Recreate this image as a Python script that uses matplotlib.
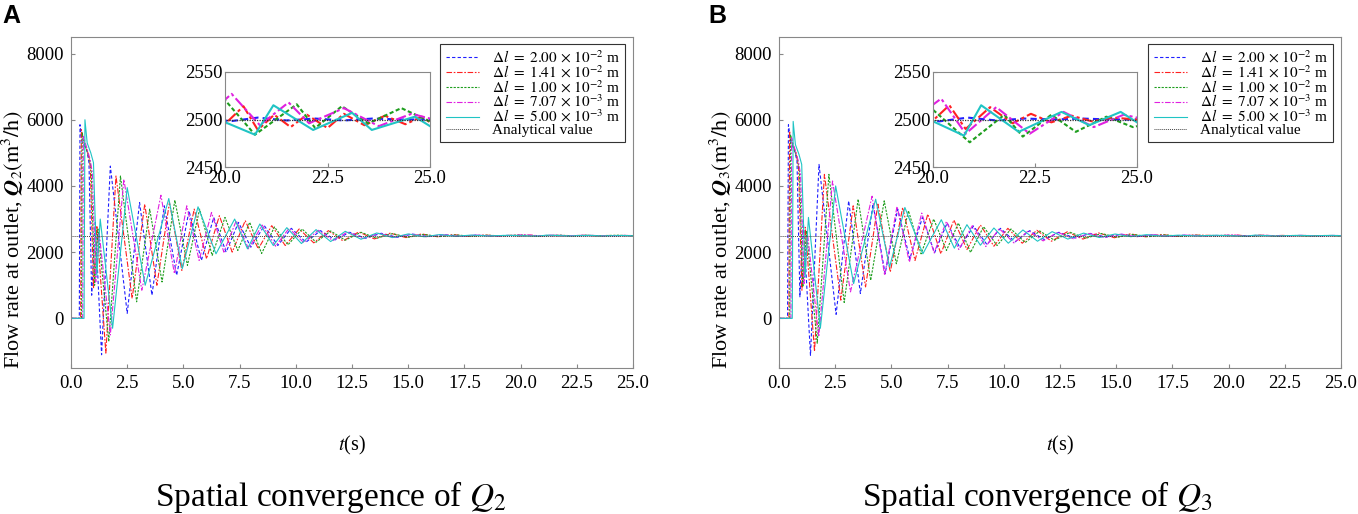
import matplotlib
matplotlib.use("Agg")
import matplotlib.pyplot as plt

plt.rcParams["font.family"] = ["Liberation Serif", "DejaVu Serif"]
plt.rcParams["mathtext.fontset"] = "stix"

# ---- panel A : Q2 (turning points) ----
T_A_BLUE = [0, 0.37, 0.40, 0.50, 0.70, 0.80, 0.92, 1.08, 1.36, 1.75,
            2.50, 3.05, 3.60, 4.15, 4.70, 5.25, 5.80, 6.35, 6.90, 7.45,
            8.00, 8.60, 9.20, 9.80, 10.45, 11.10, 11.75, 12.40, 13.10, 13.80,
            14.50, 15.20, 15.90, 16.60, 17.30, 18.00, 18.70, 19.40, 20.10, 20.80,
            21.50, 22.20, 22.90, 23.60, 24.30, 25.00]
Q_A_BLUE = [0, 0, 5850, 5300, 5100, 4700, 700, 2900, -1100, 4600,
            150, 3500, 700, 3400, 1300, 3250, 1750, 3050, 2000, 2900,
            2150, 2800, 2200, 2720, 2300, 2650, 2370, 2600, 2420, 2570,
            2450, 2545, 2470, 2525, 2485, 2512, 2493, 2506, 2498, 2502,
            2499, 2501, 2499, 2501, 2500, 2500]

T_A_RED = [0, 0.43, 0.46, 0.58, 0.75, 0.86, 1.00, 1.15, 1.55, 2.00,
           2.72, 3.28, 3.82, 4.38, 4.93, 5.48, 6.03, 6.60, 7.17, 7.75,
           8.33, 8.93, 9.53, 10.15, 10.80, 11.45, 12.10, 12.80, 13.50, 14.20,
           14.90, 15.60, 16.30, 17.00, 17.70, 18.40, 19.10, 19.55, 19.90, 20.45,
           20.80, 21.20, 21.60, 22.00, 22.50, 22.90, 23.40, 23.90, 24.40, 24.80, 25.00]
Q_A_RED = [0, 0, 5700, 5300, 5000, 4600, 900, 2800, -1050, 4300,
           600, 3450, 1000, 3500, 1450, 3300, 1800, 3100, 2000, 2950,
           2100, 2800, 2200, 2700, 2280, 2650, 2340, 2610, 2400, 2575,
           2440, 2550, 2465, 2530, 2480, 2516, 2490, 2508, 2491, 2514,
           2489, 2505, 2492, 2505, 2491, 2506, 2494, 2504, 2495, 2503, 2497]

T_A_GREEN = [0, 0.47, 0.50, 0.63, 0.80, 0.90, 1.05, 1.20, 1.68, 2.20,
             2.92, 3.50, 4.05, 4.62, 5.18, 5.72, 6.28, 6.85, 7.42, 7.95,
             8.48, 9.05, 9.65, 10.28, 10.90, 11.55, 12.20, 12.90, 13.60, 14.30,
             15.00, 15.70, 16.40, 17.10, 17.80, 18.50, 19.20, 19.95, 20.73, 21.75,
             22.20, 22.85, 23.50, 24.30, 25.00]
Q_A_GREEN = [0, 0, 5600, 5200, 4900, 4500, 1000, 2700, -700, 4300,
             500, 3300, 1100, 3570, 1600, 3300, 1900, 3050, 2050, 2900,
             1960, 2760, 2220, 2700, 2300, 2640, 2360, 2600, 2420, 2560,
             2450, 2535, 2470, 2520, 2483, 2512, 2490, 2523, 2484, 2516,
             2491, 2514, 2496, 2512, 2498]

T_A_MAG = [0, 0.52, 0.55, 0.68, 0.85, 0.95, 1.10, 1.25, 1.75, 2.35,
           3.15, 4.00, 4.60, 5.15, 5.70, 6.25, 6.80, 7.35, 7.90, 8.50,
           9.10, 9.70, 10.35, 11.00, 11.65, 12.30, 13.00, 13.70, 14.40, 15.10,
           15.80, 16.50, 17.20, 18.00, 19.10, 20.16, 20.85, 21.55, 22.05, 22.90,
           23.75, 24.55, 25.00]
Q_A_MAG = [0, 0, 5500, 5200, 4800, 4400, 1100, 2600, -500, 4200,
           850, 3720, 1350, 3400, 1750, 3200, 2000, 2950, 2100, 2820,
           2180, 2720, 2290, 2660, 2350, 2610, 2410, 2570, 2445, 2545,
           2465, 2528, 2478, 2515, 2486, 2527, 2494, 2518, 2496, 2512,
           2493, 2506, 2501]

T_A_CYAN = [0, 0.58, 0.62, 0.72, 0.88, 1.00, 1.15, 1.30, 1.85, 2.50,
            3.30, 4.35, 4.95, 5.65, 6.45, 7.28, 7.85, 8.40, 9.00, 9.60,
            10.25, 10.90, 11.55, 12.20, 12.90, 13.60, 14.30, 15.00, 15.70, 16.40,
            17.10, 17.80, 18.60, 19.40, 20.73, 21.18, 22.15, 23.10, 23.58, 24.63,
            25.00]
Q_A_CYAN = [0, 0, 6000, 5300, 5000, 4700, 1300, 3000, -300, 3950,
            1000, 3620, 1500, 3370, 1950, 3000, 2100, 2850, 2200, 2740,
            2260, 2680, 2320, 2630, 2390, 2580, 2440, 2550, 2465, 2530,
            2480, 2515, 2490, 2508, 2484, 2515, 2489, 2507, 2489, 2503,
            2493]

# ---- panel B : Q3 ----
T_B_BLUE = [0, 0.38, 0.42, 0.52, 0.70, 0.80, 0.93, 1.08, 1.40, 1.78,
            2.54, 3.10, 3.62, 4.18, 4.72, 5.28, 5.82, 6.38, 6.92, 7.48,
            8.05, 8.65, 9.25, 9.85, 10.50, 11.15, 11.80, 12.45, 13.15, 13.85,
            14.55, 15.25, 15.95, 16.65, 17.35, 18.05, 18.75, 19.45, 20.15, 20.85,
            21.55, 22.25, 22.95, 23.65, 24.35, 25.00]
Q_B_BLUE = [0, 0, 5850, 5350, 5050, 4750, 650, 2950, -1120, 4650,
            120, 3550, 750, 3450, 1350, 3300, 1800, 3050, 1980, 2880,
            2130, 2790, 2230, 2720, 2310, 2650, 2380, 2600, 2430, 2565,
            2455, 2540, 2475, 2522, 2486, 2511, 2494, 2505, 2498, 2502,
            2499, 2501, 2500, 2501, 2500, 2500]

T_B_RED = [0, 0.44, 0.47, 0.60, 0.76, 0.87, 1.02, 1.17, 1.58, 2.02,
           2.75, 3.30, 3.85, 4.40, 4.95, 5.50, 6.05, 6.62, 7.20, 7.78,
           8.36, 8.96, 9.56, 10.18, 10.82, 11.47, 12.12, 12.82, 13.52, 14.22,
           14.92, 15.62, 16.32, 17.02, 17.72, 18.42, 19.95, 20.40, 20.80, 21.40,
           21.95, 22.40, 22.90, 23.40, 23.90, 24.40, 25.00]
Q_B_RED = [0, 0, 5650, 5250, 5000, 4550, 850, 2750, -1000, 4350,
           550, 3400, 950, 3450, 1400, 3350, 1750, 3150, 1950, 2970,
           2080, 2820, 2180, 2720, 2270, 2660, 2330, 2615, 2395, 2580,
           2435, 2552, 2462, 2532, 2478, 2516, 2497, 2515, 2490, 2513,
           2496, 2506, 2497, 2504, 2498, 2502, 2500]

T_B_GREEN = [0, 0.48, 0.51, 0.64, 0.81, 0.91, 1.06, 1.22, 1.70, 2.22,
             2.90, 3.52, 4.08, 4.68, 5.22, 5.76, 6.32, 6.88, 7.45, 7.98,
             8.52, 9.10, 9.70, 10.32, 10.95, 11.60, 12.25, 12.95, 13.65, 14.35,
             15.05, 15.75, 16.45, 17.15, 17.85, 18.55, 19.30, 19.90, 20.90, 21.75,
             22.20, 22.90, 23.50, 24.25, 24.90, 25.00]
Q_B_GREEN = [0, 0, 5550, 5150, 4850, 4450, 950, 2650, -750, 4350,
             480, 3600, 1150, 3550, 1650, 3250, 1950, 3000, 2050, 2880,
             1990, 2770, 2200, 2700, 2290, 2640, 2360, 2600, 2420, 2562,
             2450, 2536, 2468, 2521, 2482, 2512, 2488, 2514, 2476, 2505,
             2482, 2505, 2487, 2503, 2492, 2493]

T_B_MAG = [0, 0.53, 0.56, 0.69, 0.86, 0.96, 1.11, 1.27, 1.77, 2.38,
           3.18, 4.14, 4.70, 5.25, 5.80, 6.35, 6.90, 7.45, 8.00, 8.60,
           9.20, 9.80, 10.45, 11.10, 11.75, 12.40, 13.10, 13.80, 14.50, 15.20,
           15.90, 16.60, 17.30, 18.10, 19.20, 20.20, 20.80, 21.55, 22.37, 23.20,
           23.94, 24.67, 25.00]
Q_B_MAG = [0, 0, 5450, 5150, 4750, 4350, 1050, 2550, -550, 4150,
           800, 3690, 1300, 3380, 1700, 3180, 1980, 2930, 2080, 2800,
           2170, 2710, 2280, 2650, 2340, 2600, 2405, 2565, 2442, 2543,
           2463, 2527, 2477, 2514, 2490, 2522, 2485, 2513, 2485, 2508,
           2492, 2505, 2502]

T_B_CYAN = [0, 0.59, 0.63, 0.73, 0.89, 1.01, 1.16, 1.31, 1.84, 2.52,
            3.32, 4.30, 4.92, 5.60, 6.40, 7.22, 7.80, 8.36, 8.96, 9.56,
            10.20, 10.85, 11.50, 12.15, 12.85, 13.55, 14.25, 14.95, 15.65, 16.35,
            17.05, 17.75, 18.55, 19.40, 20.76, 21.18, 22.10, 23.15, 23.83, 24.60,
            25.00]
Q_B_CYAN = [0, 0, 5950, 5250, 4950, 4650, 1250, 3050, -300, 4000,
            1050, 3600, 1550, 3350, 1950, 2980, 2120, 2830, 2210, 2730,
            2270, 2670, 2330, 2620, 2395, 2575, 2442, 2548, 2467, 2528,
            2482, 2513, 2491, 2510, 2483, 2515, 2487, 2508, 2494, 2508,
            2497]

T_ANALYTIC = [0, 25]
Q_ANALYTIC = [2500, 2500]

LABELS = [r"$\Delta l\ =\ 2.00\,\times\,10^{-2}$ m",
          r"$\Delta l\ =\ 1.41\,\times\,10^{-2}$ m",
          r"$\Delta l\ =\ 1.00\,\times\,10^{-2}$ m",
          r"$\Delta l\ =\ 7.07\,\times\,10^{-3}$ m",
          r"$\Delta l\ =\ 5.00\,\times\,10^{-3}$ m"]
COLORS = ["#1f1fff", "#ff2020", "#1e9e1e", "#e020e0", "#20c4c4"]
STYLES = [(0, (3, 2)), (0, (5, 1.5, 1.5, 1.5)), (0, (2, 1.2)),
          (0, (5, 1.5, 1.5, 1.5)), "-"]

PANELS = [
    ("A", [(T_A_BLUE, Q_A_BLUE), (T_A_RED, Q_A_RED), (T_A_GREEN, Q_A_GREEN),
           (T_A_MAG, Q_A_MAG), (T_A_CYAN, Q_A_CYAN)], "2"),
    ("B", [(T_B_BLUE, Q_B_BLUE), (T_B_RED, Q_B_RED), (T_B_GREEN, Q_B_GREEN),
           (T_B_MAG, Q_B_MAG), (T_B_CYAN, Q_B_CYAN)], "3"),
]

W, H = 1358, 514
fig = plt.figure(figsize=(W / 100, H / 100), dpi=100)

GREY = "#888888"


def px_axes(x0, y0, x1, y1):
    return fig.add_axes([x0 / W, 1 - y1 / H, (x1 - x0) / W, (y1 - y0) / H])


def style_axes(ax):
    for s in ax.spines.values():
        s.set_color(GREY)
        s.set_linewidth(0.8)
    ax.tick_params(direction="in", length=3, color=GREY, labelsize=13.5, pad=5)


main_box = [(71, 37, 633, 368), (779, 37, 1341, 368)]
inset_box = [(225, 72, 430, 167), (933, 72, 1137, 167)]
title_x = [331, 1037]
letter_x = [11, 717]

for i, (letter, series, idx) in enumerate(PANELS):
    ax = px_axes(*main_box[i])
    for (t, q), c, ls, lab in zip(series, COLORS, STYLES, LABELS):
        ax.plot(t, q, color=c, ls=ls, lw=0.8, label=lab)
    ax.plot(T_ANALYTIC, Q_ANALYTIC, color="#444444", ls=(0, (1, 1)), lw=0.7,
            label="Analytical value")
    ax.set_xlim(0, 25)
    ax.set_ylim(-1500, 8500)
    ax.set_yticks([0, 2000, 4000, 6000, 8000])
    ax.set_xticks([0, 2.5, 5, 7.5, 10, 12.5, 15, 17.5, 20, 22.5, 25])
    ax.set_xticklabels([f"{v:.1f}" for v in ax.get_xticks()])
    style_axes(ax)
    ax.set_xlabel(r"$t$(s)", fontsize=14.5)
    ax.xaxis.set_label_coords(0.5, -0.2)
    ax.set_ylabel(r"Flow rate at outlet, $\mathbfit{Q}_" + idx +
                  r"(\mathrm{m}^3/\mathrm{h})$", fontsize=16)
    ax.yaxis.set_label_coords(-0.08, 0.387)
    leg = ax.legend(loc="upper right", bbox_to_anchor=(0.986, 0.979),
                    borderaxespad=0, fontsize=11, frameon=True, fancybox=False,
                    framealpha=1, edgecolor="#333333", handlelength=2.2,
                    handletextpad=0.8, labelspacing=-0.1, borderpad=0.35)
    leg.get_frame().set_linewidth(0.8)

    ins = px_axes(*inset_box[i])
    for (t, q), c, ls in zip(series, COLORS, STYLES):
        ins.plot(t, q, color=c, ls=ls, lw=1.5)
    ins.plot(T_ANALYTIC, Q_ANALYTIC, color="#333333", ls=(0, (1, 1)), lw=0.9)
    ins.set_xlim(20, 25)
    ins.set_ylim(2450, 2550)
    ins.set_xticks([20, 22.5, 25])
    ins.set_xticklabels(["20.0", "22.5", "25.0"])
    ins.set_yticks([2450, 2500, 2550])
    style_axes(ins)
    ins.tick_params(pad=2)

    fig.text(title_x[i] / W, 1 - 497 / H,
             r"Spatial convergence of $Q_" + idx + "$",
             fontsize=24, ha="center", va="center")
    fig.text(letter_x[i] / W, 1 - 16 / H, letter, family="Liberation Sans",
             fontweight="bold", fontsize=18, ha="center", va="center")

fig.savefig("out.png", dpi=100)
